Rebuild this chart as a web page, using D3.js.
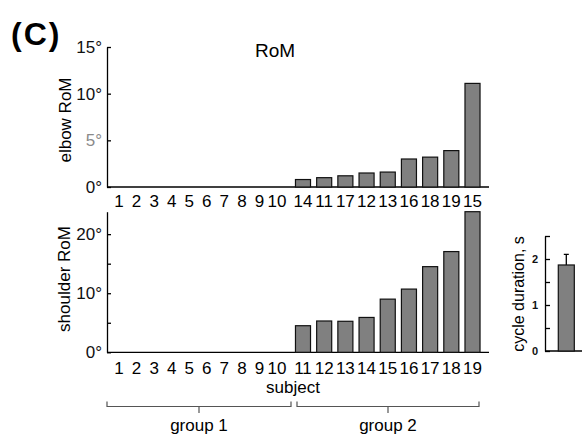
<!DOCTYPE html>
<html>
<head>
<meta charset="utf-8">
<script src="https://cdn.jsdelivr.net/npm/d3@7"></script>
<style>
  body { margin: 0; background: #fff; }
  svg { display: block; font-family: Arial, "Liberation Sans", sans-serif; }
  .axis path, .axis line { stroke: #000; stroke-width: 1.3; }
  .axis text { fill: #111; }
  .bar { fill: #808080; stroke: #111; stroke-width: 1.2; }
</style>
</head>
<body>
<div id="chart"></div>
<script>
const width = 582,
  height = 434;

// subjects of group 1 (no movement)
const group1 = ["1", "2", "3", "4", "5", "6", "7", "8", "9", "10"];

// elbow RoM, group 2, sorted
const elbowSubjects = ["14", "11", "17", "12", "13", "16", "18", "19", "15"];
const elbowValues = [0.8, 1.0, 1.2, 1.5, 1.6, 3.0, 3.2, 3.9, 11.1];

// shoulder RoM, group 2
const shoulderSubjects = ["11", "12", "13", "14", "15", "16", "17", "18", "19"];
const shoulderValues = [4.5, 5.3, 5.25, 5.9, 9.0, 10.7, 14.5, 17.05, 23.8];

// cycle duration
const cycleLabels = ["all"];
const cycleMean = [1.87];
const cycleErr = [0.23];

const elbowTicks = [0, 5, 10, 15];
const shoulderTicks = [0, 5, 10, 15, 20];
const shoulderTickLabels = [0, 10, 20];
const cycleTicks = [0, 0.5, 1, 1.5, 2, 2.5];
const cycleTickLabels = [0, 1, 2];

const groups = ["group 1", "group 2"];

const axisX = 107, axisEnd = 489;
const top1 = { y0: 187, y1: 47 };
const top2 = { y0: 352.3, y1: 211.7 };

const svg = d3.select("#chart").append("svg")
  .attr("width", width)
  .attr("height", height);

// shared x scales
const x1 = d3.scalePoint().domain(group1).range([119, 277]);
const xElbow = d3.scaleBand().domain(elbowSubjects).range([292.4, 483.1])
  .paddingInner(0.29).paddingOuter(0.145);
const xShoulder = d3.scaleBand().domain(shoulderSubjects).range([292.4, 483.1])
  .paddingInner(0.29).paddingOuter(0.145);

// panel label
svg.append("text")
  .attr("x", 11).attr("y", 45)
  .attr("font-size", 32).attr("font-weight", "bold")
  .attr("letter-spacing", 2)
  .text("(C)");

svg.append("text")
  .attr("x", 275).attr("y", 57)
  .attr("text-anchor", "middle")
  .attr("font-size", 19)
  .text("RoM");

function drawPanel(cfg) {
  const y = d3.scaleLinear().domain(cfg.domain).range([cfg.y0, cfg.y1]);

  const yAxis = d3.axisLeft(y)
    .tickValues(cfg.ticks)
    .tickSizeInner(-4)
    .tickSizeOuter(0)
    .tickPadding(5)
    .tickFormat(d => cfg.labels.includes(d) ? d + "°" : "");

  const g = svg.append("g")
    .attr("class", "axis")
    .attr("transform", `translate(${axisX},0)`)
    .call(yAxis);
  g.selectAll("text").attr("font-size", 17).attr("font-family", null);
  g.selectAll(".tick text").filter(d => d === 5).style("fill", "#8a8a8a");

  // x axis line
  svg.append("line")
    .attr("x1", axisX).attr("x2", axisEnd)
    .attr("y1", y(0)).attr("y2", y(0))
    .attr("stroke", "#000").attr("stroke-width", 1.3);

  svg.append("g")
    .selectAll("rect")
    .data(cfg.values)
    .join("rect")
    .attr("class", "bar")
    .attr("x", (d, i) => cfg.x(cfg.subjects[i]))
    .attr("width", cfg.x.bandwidth())
    .attr("y", d => y(d))
    .attr("height", d => y(0) - y(d));

  // subject labels
  const lab = svg.append("g").attr("font-size", 17).attr("text-anchor", "middle");
  lab.selectAll(".g1")
    .data(group1)
    .join("text")
    .attr("x", d => x1(d))
    .attr("y", cfg.labelY)
    .text(d => d);
  lab.selectAll(".g2")
    .data(cfg.subjects)
    .join("text")
    .attr("x", d => cfg.x(d) + cfg.x.bandwidth() / 2)
    .attr("y", cfg.labelY)
    .text(d => d);

  svg.append("text")
    .attr("transform", `translate(${cfg.titleX},${(cfg.y0 + cfg.y1) / 2 + cfg.titleDy}) rotate(-90)`)
    .attr("text-anchor", "middle")
    .attr("font-size", 17)
    .text(cfg.title);
}

drawPanel({
  domain: [0, 15], y0: top1.y0, y1: top1.y1,
  ticks: elbowTicks, labels: elbowTicks,
  x: xElbow, subjects: elbowSubjects, values: elbowValues,
  labelY: 207, title: "elbow RoM", titleX: 71, titleDy: 3
});

drawPanel({
  domain: [0, 23.8], y0: top2.y0, y1: top2.y1,
  ticks: shoulderTicks, labels: shoulderTickLabels,
  x: xShoulder, subjects: shoulderSubjects, values: shoulderValues,
  labelY: 374, title: "shoulder RoM", titleX: 70, titleDy: -3
});

svg.append("text")
  .attr("x", 293).attr("y", 393)
  .attr("text-anchor", "middle")
  .attr("font-size", 17)
  .text("subject");

// group braces
const braces = [[107, 291], [297, 479]];
const bg = svg.append("g").attr("stroke", "#555").attr("fill", "none").attr("stroke-width", 1.2);
bg.selectAll("path")
  .data(braces)
  .join("path")
  .attr("d", d => {
    const m = (d[0] + d[1]) / 2;
    return `M${d[0]},401.5V406.5H${d[1]}V401.5M${m},406.5V413`;
  });
svg.append("g")
  .selectAll("text")
  .data(groups)
  .join("text")
  .attr("x", (d, i) => (braces[i][0] + braces[i][1]) / 2)
  .attr("y", 431)
  .attr("text-anchor", "middle")
  .attr("font-size", 17)
  .text(d => d);

// cycle duration inset
const yc = d3.scaleLinear().domain([0, 2.5]).range([351, 236]);
const xc = d3.scaleBand().domain(cycleLabels).range([545, 587.6])
  .paddingInner(0).paddingOuter(0.83);

const cAxis = svg.append("g")
  .attr("class", "axis")
  .attr("transform", "translate(545,0)")
  .call(d3.axisLeft(yc)
    .tickValues(cycleTicks)
    .tickSizeInner(-5)
    .tickSizeOuter(0)
    .tickPadding(7)
    .tickFormat(d => cycleTickLabels.includes(d) ? d : ""));
cAxis.selectAll("text").attr("font-size", 11).attr("font-weight", "bold").attr("font-family", null);

svg.append("line")
  .attr("x1", 545).attr("x2", 582)
  .attr("y1", yc(0)).attr("y2", yc(0))
  .attr("stroke", "#000").attr("stroke-width", 1.3);

// error bars
svg.append("g")
  .selectAll("path")
  .data(cycleMean)
  .join("path")
  .attr("stroke", "#000").attr("stroke-width", 1.3).attr("fill", "none")
  .attr("d", (d, i) => {
    const cx = xc(cycleLabels[i]) + xc.bandwidth() / 2;
    const top = yc(d + cycleErr[i]);
    return `M${cx},${yc(d)}V${top}M${cx - 2.5},${top}H${cx + 2.5}`;
  });

svg.append("g")
  .selectAll("rect")
  .data(cycleMean)
  .join("rect")
  .attr("class", "bar")
  .attr("x", (d, i) => xc(cycleLabels[i]))
  .attr("width", xc.bandwidth())
  .attr("y", d => yc(d))
  .attr("height", d => yc(0) - yc(d));

svg.append("text")
  .attr("transform", `translate(524,294) rotate(-90)`)
  .attr("text-anchor", "middle")
  .attr("font-size", 16)
  .text("cycle duration, s");
</script>
</body>
</html>
